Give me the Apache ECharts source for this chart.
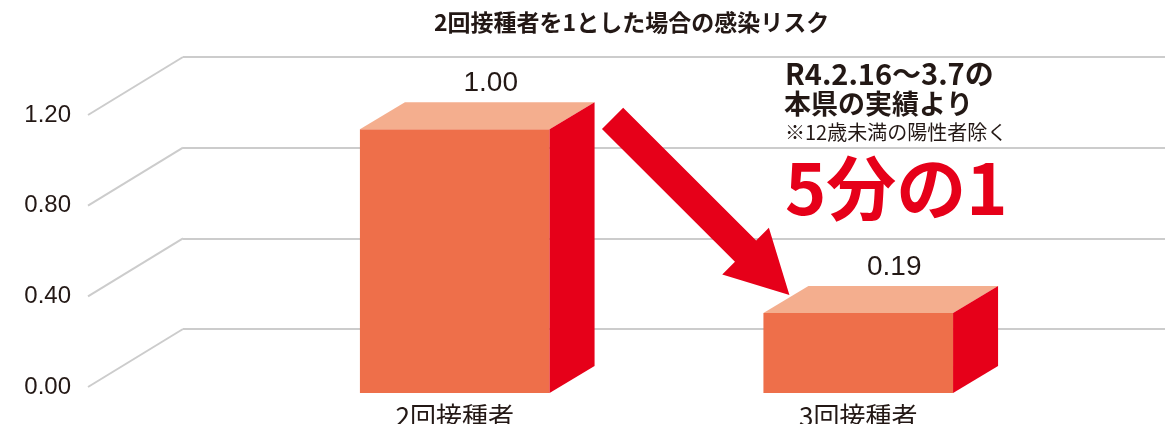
<!DOCTYPE html>
<html>
<head>
<meta charset="utf-8">
<script src="https://cdn.jsdelivr.net/npm/echarts@6.0.0/dist/echarts.min.js"></script>
<style>
  html, body { margin: 0; padding: 0; background: #fff; }
  #chart { width: 1165px; height: 424px; }
</style>
</head>
<body>
<div id="chart"></div>
<script>
const chartTitle = '2回接種者を1とした場合の感染リスク'
const categories = ['2回接種者', '3回接種者']
const values = [1.00, 0.19]
const valueLabels = ['1.00', '0.19']
const yTicks = [0, 0.4, 0.8, 1.2]
const noteLines = ['R4.2.16〜3.7の', '本県の実績より', '※12歳未満の陽性者除く']
const headline = '5分の1'

const FONT = '"Noto Sans CJK JP", sans-serif'
const NUM_FONT = '"Liberation Sans", Arial, sans-serif'
const INK = '#231815'
const RED = '#e60019'
const FRONT = '#ee6f4a'
const TOP = '#f4ae8e'
const GRID_LINE = '#cccccc'

// 奥行き（グリッドの斜線とバーの厚み）
const GRID_DX = 95, GRID_DY = 58
const BAR_DX = 45, BAR_DY = 27
const BAR_RATIO = 0.47
const FLOOR = 64 // バー底面は奥の0ラインより下まで伸びる

const chart = echarts.init(document.getElementById('chart'))

const yRange = { type: 'value', min: 0, max: 1.2, interval: 0.4 }

chart.setOption({
  animation: false,
  title: [
    { text: chartTitle, left: 434, top: 11, padding: 0,
      textStyle: { fontFamily: FONT, fontSize: 23, fontWeight: 'bold', color: INK } },
    { text: noteLines[0], left: 785, top: 59, padding: 0,
      textStyle: { fontFamily: FONT, fontSize: 29, fontWeight: 'bold', color: INK } },
    { text: noteLines[1], left: 784, top: 90, padding: 0,
      textStyle: { fontFamily: FONT, fontSize: 27, fontWeight: 'bold', color: INK } },
    { text: noteLines[2], left: 785, top: 122, padding: 0,
      textStyle: { fontFamily: FONT, fontSize: 20, fontWeight: 'normal', color: INK } },
    { text: headline, left: 785, top: 153, padding: 0,
      textStyle: { fontFamily: FONT, fontSize: 70, fontWeight: 'bold', color: RED } }
  ],
  grid: [
    { left: 88, top: 115, width: 95, height: 272, outerBoundsMode: 'none' },   // 手前（目盛り）
    { left: 183, right: 0, top: 57, height: 272, outerBoundsMode: 'none' },    // 奥（横線）
    { left: 253, right: 105, top: 57, height: 272, outerBoundsMode: 'none' }   // バー
  ],
  xAxis: [
    { gridIndex: 0, type: 'value', min: 0, max: 1, show: false },
    { gridIndex: 1, type: 'value', min: 0, max: 1, show: false },
    {
      gridIndex: 2, type: 'category', data: categories,
      axisLine: { show: false }, axisTick: { show: false },
      axisLabel: { margin: 74, fontSize: 26, color: INK, fontFamily: FONT }
    }
  ],
  yAxis: [
    {
      ...yRange, gridIndex: 0,
      axisLine: { show: false }, axisTick: { show: false }, splitLine: { show: false },
      axisLabel: { margin: 17, fontSize: 24, color: INK, fontFamily: NUM_FONT, formatter: v => v.toFixed(2) }
    },
    {
      ...yRange, gridIndex: 1,
      axisLine: { show: false }, axisTick: { show: false }, axisLabel: { show: false },
      splitLine: { lineStyle: { color: GRID_LINE, width: 2 } }
    },
    { ...yRange, gridIndex: 2, show: false }
  ],
  series: [
    {
      // 手前から奥への斜線
      type: 'custom', xAxisIndex: 0, yAxisIndex: 0, silent: true,
      data: yTicks.map(v => [0, v]),
      renderItem: (params, api) => {
        const p = api.coord([0, api.value(1)])
        return {
          type: 'line',
          shape: { x1: p[0], y1: p[1], x2: p[0] + GRID_DX, y2: p[1] - GRID_DY },
          style: { stroke: GRID_LINE, lineWidth: 2 }
        }
      }
    },
    {
      type: 'custom', xAxisIndex: 2, yAxisIndex: 2, silent: true,
      data: values.map((v, i) => [i, v]),
      renderItem: (params, api) => {
        const top = api.coord([api.value(0), api.value(1)])
        const base = api.coord([api.value(0), 0])
        const w = api.size([1, 0])[0] * BAR_RATIO
        const x0 = top[0] - w / 2, x1 = top[0] + w / 2
        const yTop = top[1] + BAR_DY
        const yBot = base[1] + FLOOR
        return {
          type: 'group',
          children: [
            { type: 'rect', shape: { x: x0, y: yTop, width: w, height: yBot - yTop }, style: { fill: FRONT } },
            {
              type: 'polygon',
              shape: { points: [[x0, yTop], [x1, yTop], [x1 + BAR_DX, yTop - BAR_DY], [x0 + BAR_DX, yTop - BAR_DY]] },
              style: { fill: TOP }
            },
            {
              type: 'polygon',
              shape: { points: [[x1, yTop], [x1 + BAR_DX, yTop - BAR_DY], [x1 + BAR_DX, yBot - BAR_DY], [x1, yBot]] },
              style: { fill: RED }
            },
            {
              type: 'text',
              style: {
                text: valueLabels[params.dataIndex], x: top[0] + 36, y: top[1] - 19,
                textAlign: 'center', textVerticalAlign: 'middle',
                font: '28px "Liberation Sans", Arial, sans-serif', fill: INK
              }
            }
          ]
        }
      }
    },
    {
      // 矢印（1本目のバーから2本目のバーへ）
      type: 'custom', xAxisIndex: 2, yAxisIndex: 2, silent: true, z: 3,
      data: [[0, values[0], 1, values[1]]],
      renderItem: (params, api) => {
        const a = api.coord([api.value(0), api.value(1)])
        const b = api.coord([api.value(2), api.value(3)])
        const w = api.size([1, 0])[0] * BAR_RATIO
        const tail = [a[0] + w / 2 + BAR_DX + 18, a[1] + 16]
        const tip = [b[0] - w / 2 + 26, b[1] + BAR_DY - 18]
        const dx = tip[0] - tail[0], dy = tip[1] - tail[1]
        const len = Math.hypot(dx, dy)
        const u = [dx / len, dy / len], n = [-u[1], u[0]]
        const hb = [tip[0] - u[0] * 62, tip[1] - u[1] * 62]
        const off = (p, k) => [p[0] + n[0] * k, p[1] + n[1] * k]
        return {
          type: 'polygon',
          shape: { points: [off(tail, 15), off(hb, 15), off(hb, 33), tip, off(hb, -33), off(hb, -15), off(tail, -15)] },
          style: { fill: RED }
        }
      }
    }
  ]
})
</script>
</body>
</html>
